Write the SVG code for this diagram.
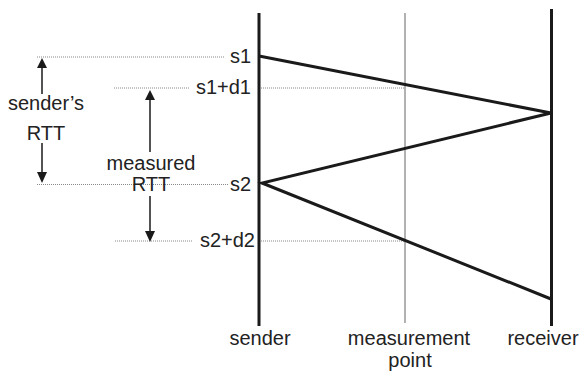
<svg xmlns="http://www.w3.org/2000/svg" width="580" height="371" viewBox="0 0 580 371">
<style>
text{font-family:"Liberation Sans",Arial,sans-serif;font-size:20px;fill:#222}
.dot{stroke:#888;stroke-width:1;stroke-dasharray:1 1;fill:none}
.life{stroke:#1a1a1a;stroke-width:3;fill:none}
.mp{stroke:#999;stroke-width:1.5;fill:none}
.msg{stroke:#1a1a1a;stroke-width:3;fill:none;stroke-linejoin:miter}
.arr{stroke:#1a1a1a;stroke-width:1.5;fill:none}
.head{fill:#1a1a1a}
</style>
<rect width="580" height="371" fill="#fff"/>
<g id="guides">
<line class="dot" x1="37" y1="57" x2="224" y2="57"/>
<line class="dot" x1="114" y1="88" x2="189" y2="88"/>
<line class="dot" x1="261" y1="88" x2="405" y2="88"/>
<line class="dot" x1="37" y1="184.5" x2="228" y2="184.5"/>
<line class="dot" x1="115" y1="241" x2="192" y2="241"/>
<line class="dot" x1="261" y1="241" x2="405" y2="241"/>
</g>
<g id="sender">
<line class="life" x1="259" y1="13" x2="259" y2="326"/>
<text x="260" y="345" text-anchor="middle">sender</text>
</g>
<g id="measurement-point">
<line class="mp" x1="405" y1="13" x2="405" y2="323"/>
<text x="409" y="345" text-anchor="middle">measurement</text>
<text x="410" y="367" text-anchor="middle">point</text>
</g>
<g id="receiver">
<line class="life" x1="551.5" y1="9" x2="551.5" y2="326"/>
<text x="543" y="345" text-anchor="middle">receiver</text>
</g>
<g id="connectors">
<polyline class="msg" points="259,56 551,113 262,183 551,299"/>
</g>
<g id="labels">
<text x="251" y="63" text-anchor="end">s1</text>
<text x="251" y="94" text-anchor="end">s1+d1</text>
<text x="251" y="191" text-anchor="end">s2</text>
<text x="255" y="247" text-anchor="end">s2+d2</text>
</g>
<g id="senders-rtt">
<line class="arr" x1="42" y1="64" x2="42" y2="94"/>
<polygon class="head" points="42,58 37,68 47,68"/>
<line class="arr" x1="42" y1="143" x2="42" y2="176"/>
<polygon class="head" points="42,183 37,172 47,172"/>
<text x="46" y="110" text-anchor="middle">sender’s</text>
<text x="46" y="140" text-anchor="middle">RTT</text>
</g>
<g id="measured-rtt">
<line class="arr" x1="150" y1="96" x2="150" y2="152"/>
<polygon class="head" points="150,90 145,100 155,100"/>
<line class="arr" x1="150" y1="196" x2="150" y2="235"/>
<polygon class="head" points="150,242 145,231 155,231"/>
<text x="151" y="170" text-anchor="middle">measured</text>
<text x="151" y="191" text-anchor="middle">RTT</text>
</g>
</svg>
